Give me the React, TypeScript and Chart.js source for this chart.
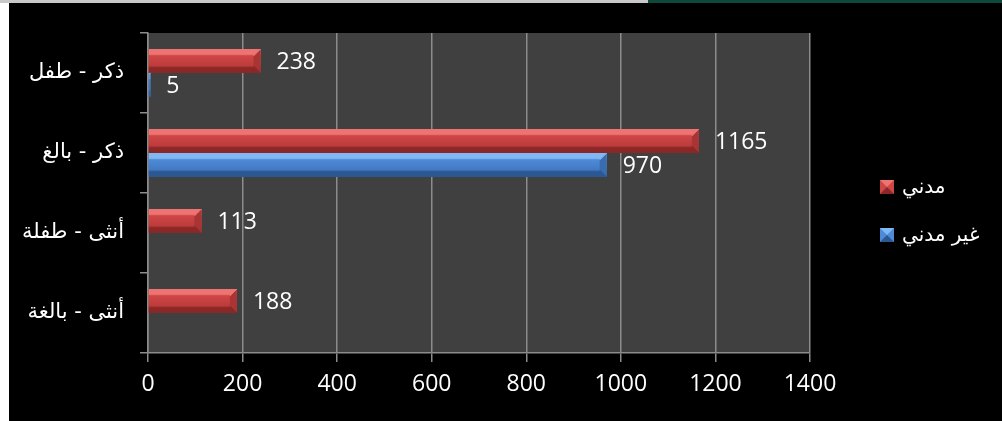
import React, { useEffect, useRef } from 'react';
import { Chart, registerables } from 'chart.js';

Chart.register(...registerables);

const categories = ['ذكر - طفل', 'ذكر - بالغ', 'أنثى - طفلة', 'أنثى - بالغة'];
const civilian: (number | null)[] = [238, 1165, 113, 188];
const nonCivilian: (number | null)[] = [5, 970, null, null];
const seriesNames = ['مدني', 'غير مدني'];
const xMin = 0;
const xMax = 1400;
const xStep = 200;

const palettes = [
  { light: '#ee7474', face: '#cf4646', mid: '#bd3b3b', dark: '#8c2727', side: '#a83434' },
  { light: '#80b8f4', face: '#4f8ad6', mid: '#4279c4', dark: '#2b5893', side: '#3a6cb0' },
];

const NUM_FONT = '"Open Sans", "Liberation Sans", sans-serif';
const AR_FONT = '"DejaVu Sans", sans-serif';

function drawBevelBar(ctx: CanvasRenderingContext2D, left: number, right: number, top: number, bottom: number, p: typeof palettes[0]) {
  const h = bottom - top;
  const w = right - left;
  if (w <= 0) return;
  const b = Math.min(7, w / 2, h / 3);
  const g = ctx.createLinearGradient(0, top, 0, bottom);
  g.addColorStop(0, p.light);
  g.addColorStop(0.22, p.light);
  g.addColorStop(0.28, p.face);
  g.addColorStop(0.7, p.mid);
  g.addColorStop(0.78, p.dark);
  g.addColorStop(1, p.dark);
  ctx.save();
  ctx.fillStyle = g;
  ctx.fillRect(left, top, w, h);
  ctx.beginPath();
  ctx.moveTo(right, top);
  ctx.lineTo(right, bottom);
  ctx.lineTo(right - b, bottom - b);
  ctx.lineTo(right - b, top + b);
  ctx.closePath();
  ctx.fillStyle = p.side;
  ctx.fill();
  ctx.beginPath();
  ctx.moveTo(right, top);
  ctx.lineTo(right - b, top + b);
  ctx.strokeStyle = p.light;
  ctx.lineWidth = 1;
  ctx.stroke();
  ctx.beginPath();
  ctx.moveTo(right, bottom);
  ctx.lineTo(right - b, bottom - b);
  ctx.strokeStyle = p.dark;
  ctx.stroke();
  ctx.restore();
}

const plotBg = {
  id: 'plotBg',
  beforeDraw(chart: any) {
    const { ctx, chartArea } = chart;
    ctx.save();
    ctx.fillStyle = '#404040';
    ctx.fillRect(chartArea.left, chartArea.top, chartArea.right - chartArea.left, chartArea.bottom - chartArea.top);
    ctx.restore();
  },
};

const bevelAndLabels = {
  id: 'bevelAndLabels',
  afterDatasetsDraw(chart: any) {
    const ctx: CanvasRenderingContext2D = chart.ctx;
    chart.data.datasets.forEach((ds: any, di: number) => {
      const meta = chart.getDatasetMeta(di);
      meta.data.forEach((el: any, i: number) => {
        const v = ds.data[i];
        if (v === null || v === undefined) return;
        const top = el.y - el.height / 2;
        const bottom = el.y + el.height / 2;
        drawBevelBar(ctx, el.base, el.x, top, bottom, palettes[di]);
        ctx.save();
        ctx.fillStyle = '#ffffff';
        ctx.font = `23px ${NUM_FONT}`;
        ctx.textAlign = 'left';
        ctx.textBaseline = 'middle';
        ctx.fillText(String(v), el.x + 16, el.y + 1);
        ctx.restore();
      });
    });
  },
};

const customLegend = {
  id: 'customLegend',
  afterDraw(chart: any) {
    const ctx: CanvasRenderingContext2D = chart.ctx;
    const x = 871;
    const ys = [184, 232];
    seriesNames.forEach((name, i) => {
      const p = palettes[i];
      const cy = ys[i];
      const s = 14;
      const l = x, t = cy - s / 2;
      ctx.save();
      ctx.fillStyle = p.face;
      ctx.fillRect(l, t, s, s);
      ctx.beginPath();
      ctx.moveTo(l, t);
      ctx.lineTo(l + s, t);
      ctx.lineTo(l + s / 2, t + s / 2);
      ctx.closePath();
      ctx.fillStyle = p.light;
      ctx.fill();
      ctx.beginPath();
      ctx.moveTo(l, t + s);
      ctx.lineTo(l + s, t + s);
      ctx.lineTo(l + s / 2, t + s / 2);
      ctx.closePath();
      ctx.fillStyle = p.dark;
      ctx.fill();
      ctx.fillStyle = '#ffffff';
      ctx.font = `20px ${AR_FONT}`;
      ctx.textAlign = 'left';
      ctx.textBaseline = 'middle';
      ctx.fillText(name, x + 22, cy + 1);
      ctx.restore();
    });
  },
};

export default function App() {
  const ref = useRef<HTMLCanvasElement | null>(null);
  useEffect(() => {
    if (!ref.current) return;
    const chart = new Chart(ref.current, {
      type: 'bar',
      data: {
        labels: categories,
        datasets: [
          { label: seriesNames[0], data: civilian, backgroundColor: palettes[0].face, barPercentage: 1, categoryPercentage: 0.6 },
          { label: seriesNames[1], data: nonCivilian, backgroundColor: palettes[1].face, barPercentage: 1, categoryPercentage: 0.6 },
        ],
      },
      options: {
        indexAxis: 'y',
        animation: false,
        responsive: false,
        devicePixelRatio: 1,
        layout: { padding: { top: 30, right: 192, left: 0, bottom: 0 } },
        plugins: { legend: { display: false }, tooltip: { enabled: false } },
        scales: {
          x: {
            min: xMin,
            max: xMax,
            position: 'bottom',
            ticks: {
              stepSize: xStep,
              color: '#ffffff',
              font: { family: NUM_FONT, size: 23 },
              padding: 9,
              maxRotation: 0,
              callback: (v: any) => String(v),
            },
            grid: { color: '#8c8c8c', lineWidth: 1.5, tickLength: 9, drawTicks: true },
            border: { display: true, color: '#8c8c8c', width: 1.5 },
            afterFit: (s: any) => { s.height = 68; },
          },
          y: {
            type: 'category',
            offset: true,
            ticks: { color: '#ffffff', font: { family: AR_FONT, size: 21 }, padding: 16 },
            grid: { offset: true, drawOnChartArea: false, drawTicks: true, tickLength: 8, color: '#8c8c8c', lineWidth: 1.5 },
            border: { display: true, color: '#8c8c8c', width: 1.5 },
            afterFit: (s: any) => { s.width = 139; },
          },
        },
      },
      plugins: [plotBg, bevelAndLabels, customLegend],
    } as any);
    return () => chart.destroy();
  }, []);

  return (
    <div style={{ position: 'fixed', left: 0, top: 0, width: 1002, height: 421, background: '#ffffff', overflow: 'hidden' }}>
      <div style={{ position: 'absolute', left: 0, top: 0, width: 648, height: 3, background: '#c8c8c8' }} />
      <div style={{ position: 'absolute', left: 648, top: 0, width: 354, height: 3, background: '#0e4a3c' }} />
      <div style={{ position: 'absolute', left: 9, top: 3, width: 993, height: 418, background: '#000000' }}>
        <canvas ref={ref} width={993} height={418} style={{ display: 'block', width: 993, height: 418 }} />
      </div>
    </div>
  );
}
